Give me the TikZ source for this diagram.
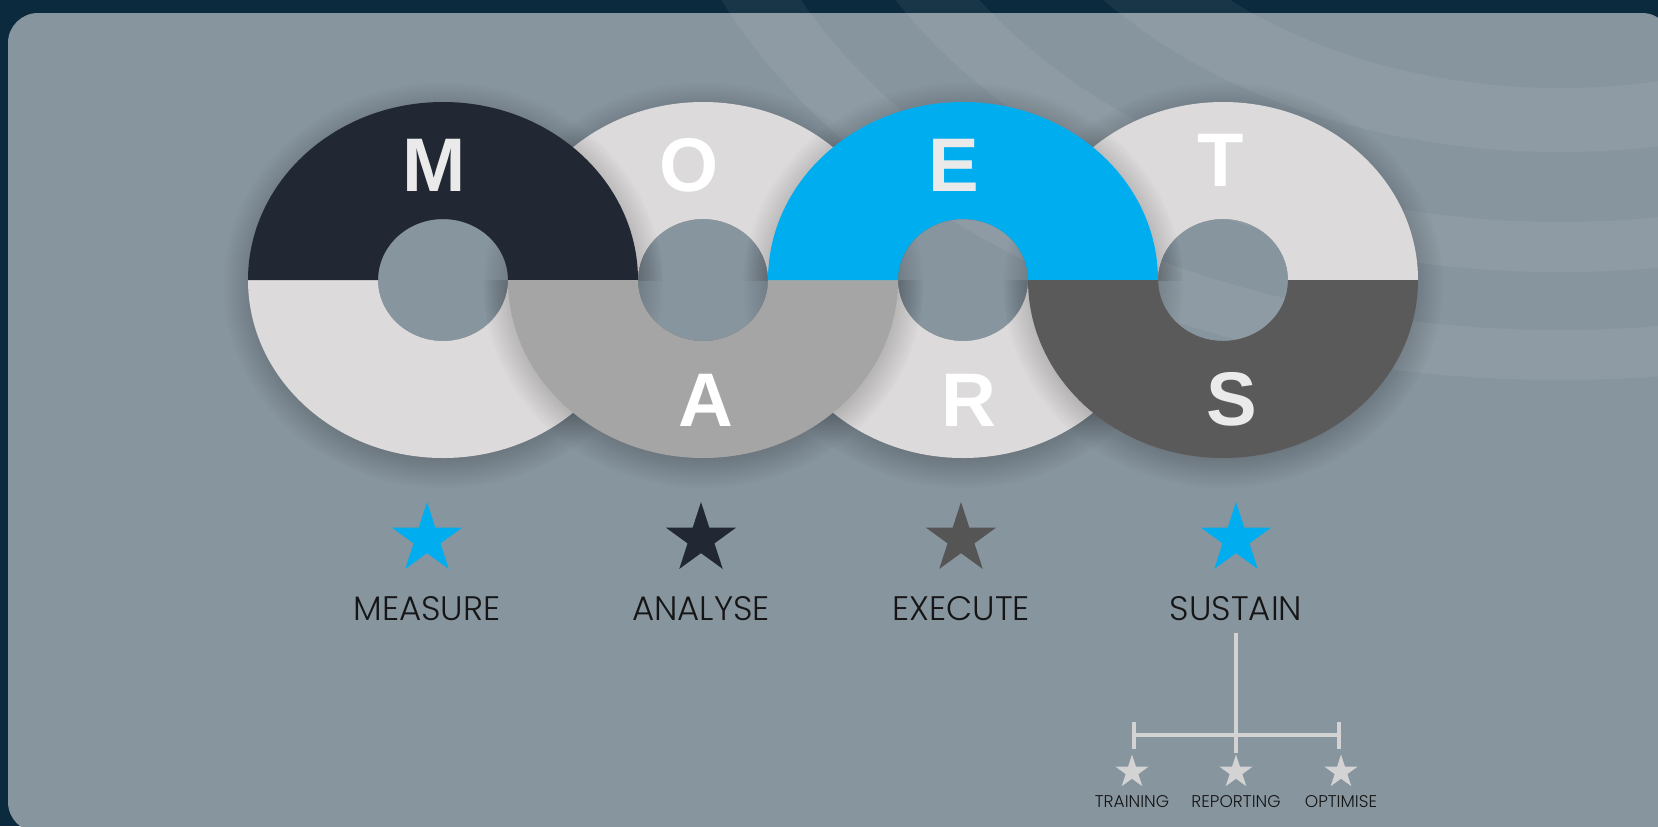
\documentclass[tikz,border=0pt]{standalone}
\usepackage{fontspec}
\setmainfont{Liberation Sans}
\IfFontExistsTF{Poppins Light}{\newfontfamily\tagfont{Poppins Light}}{\newfontfamily\tagfont{Poppins}}
\usetikzlibrary{shapes.geometric, fadings, arrows.meta}
\definecolor{pageNavy}{RGB}{11, 42, 62}
\definecolor{panelGrey}{RGB}{135, 149, 159}
\definecolor{themeNavy}{RGB}{33, 40, 51}
\definecolor{themeLight}{RGB}{220, 218, 219}
\definecolor{themeMid}{RGB}{165, 165, 165}
\definecolor{themeBlue}{RGB}{0, 174, 239}
\definecolor{themeDark}{RGB}{90, 90, 90}
\definecolor{themeStar}{RGB}{85, 85, 85}
\definecolor{themeTree}{RGB}{211, 211, 211}
\definecolor{themeLetter}{RGB}{234, 234, 234}
\definecolor{themeInk}{RGB}{21, 21, 21}

% ring geometry (picture units = pixels)
\newcommand{\ringRx}{195}
\newcommand{\ringRy}{178}
\newcommand{\holeRx}{65}
\newcommand{\holeRy}{61}
\newcommand{\ringY}{280}

\newcommand{\upperHalf}[2]{%
    \fill[#2] (#1-\ringRx, \ringY) arc[start angle=180, end angle=360, x radius=\ringRx, y radius=\ringRy]
        -- (#1+\holeRx, \ringY) arc[start angle=0, end angle=-180, x radius=\holeRx, y radius=\holeRy] -- cycle;
}
\newcommand{\lowerHalf}[2]{%
    \fill[#2] (#1+\ringRx, \ringY) arc[start angle=0, end angle=180, x radius=\ringRx, y radius=\ringRy]
        -- (#1-\holeRx, \ringY) arc[start angle=180, end angle=0, x radius=\holeRx, y radius=\holeRy] -- cycle;
}
% soft shadow round a whole ring, hole left open
\newcommand{\ringShadow}[1]{%
    \fill[ringshade] (#1, \ringY+5) ellipse[x radius=\ringRx+25, y radius=\ringRy+25]
        (#1, \ringY) ellipse[x radius=\holeRx, y radius=\holeRy];
}

\begin{document}
\begin{tikzpicture} [
        x=0.5pt, y=-0.5pt,
        ringshade/.style={fill=black, fill opacity=0.26, even odd rule, path fading=circle with fuzzy edge 20 percent},
        letter/.style={font=\fontsize{38}{40}\selectfont\bfseries, text=white, inner sep=0pt},
        bigstar/.style={star, star points=5, star point ratio=2.618, minimum size=37pt, inner sep=0pt},
        smallstar/.style={bigstar, minimum size=17.5pt, fill=themeTree},
        tag/.style={font=\tagfont\fontsize{17}{18}\selectfont, text=themeInk, inner sep=0pt},
        subtag/.style={font=\tagfont\fontsize{8.5}{9}\selectfont, text=themeInk, inner sep=0pt},
        tree/.style={draw=themeTree, line width=2pt},
        band/.style={fill=white, fill opacity=0.06, even odd rule}
    ]
        \useasboundingbox (0,0) rectangle (1658,826);
        \clip (0,0) rectangle (1658,826);
        \fill[pageNavy] (0,0) rectangle (1658,826);
        \fill[panelGrey, rounded corners=15pt] (8,13) rectangle (1672,832);

        % soft sweeps in the top right corner
        \foreach \ra/\rb in {338/402, 472/522, 580/630} {
            \fill[band] (1560,-250) ellipse[x radius=1.45*\rb, y radius=\rb]
                        (1560,-250) ellipse[x radius=1.45*\ra, y radius=\ra];
        }

        % RINGS: shadows on the panel
        \foreach \cx in {443, 703, 963, 1223} {
            \ringShadow{\cx}
        }

        % RINGS: halves at the back
        \lowerHalf{443}{themeLight}
        \upperHalf{703}{themeLight}
        \lowerHalf{963}{themeLight}
        \upperHalf{1223}{themeLight}

        % RINGS: halves in front, each casting onto the halves behind
        \begin{scope}
            \clip (0,0) rectangle (1658,\ringY);
            \clip (703,\ringY) ellipse[x radius=\ringRx, y radius=\ringRy]
                  (1223,\ringY) ellipse[x radius=\ringRx, y radius=\ringRy];
            \ringShadow{443}
            \ringShadow{963}
        \end{scope}
        \begin{scope}
            \clip (0,\ringY) rectangle (1658,826);
            \clip (443,\ringY) ellipse[x radius=\ringRx, y radius=\ringRy]
                  (963,\ringY) ellipse[x radius=\ringRx, y radius=\ringRy];
            \ringShadow{703}
            \ringShadow{1223}
        \end{scope}
        \upperHalf{443}{themeNavy}
        \lowerHalf{703}{themeMid}
        \upperHalf{963}{themeBlue}
        \lowerHalf{1223}{themeDark}

        \node[letter, text=themeLetter] (m) at (434,165) {M};
        \node[letter] (o) at (689,165) {O};
        \node[letter, text=themeLetter] (e) at (954,165) {E};
        \node[letter] (t) at (1221,160) {T};
        \node[letter] (a) at (706,400) {A};
        \node[letter] (r) at (969,400) {R};
        \node[letter, text=themeLetter] (s) at (1232,399) {S};

        % stars and their steps
        \foreach \x/\col/\name/\txt in {427/themeBlue/measure/MEASURE, 701/themeNavy/analyse/ANALYSE,
                                        961/themeStar/execute/EXECUTE, 1236/themeBlue/sustain/SUSTAIN} {
            \node[bigstar, fill=\col] (star-\name) at (\x, 539) {};
            \node[tag] (\name) at (\x, 609) {\txt};
        }

        % SUSTAIN split
        \foreach \x/\name/\txt in {1132/training/TRAINING, 1236/reporting/REPORTING, 1341/optimise/OPTIMISE} {
            \node[smallstar] (star-\name) at (\x, 772) {};
            \node[subtag] (\name) at (\x, 802) {\txt};
        }
        \draw[tree] ([yshift=-5.5pt]sustain.south) -- (star-reporting.north);
        \draw[tree, {Bar[width=13.5pt]}-{Bar[width=13.5pt]}] ([yshift=9pt]star-training.north) -- ([yshift=9pt]star-optimise.north);
    \end{tikzpicture}
\end{document}
